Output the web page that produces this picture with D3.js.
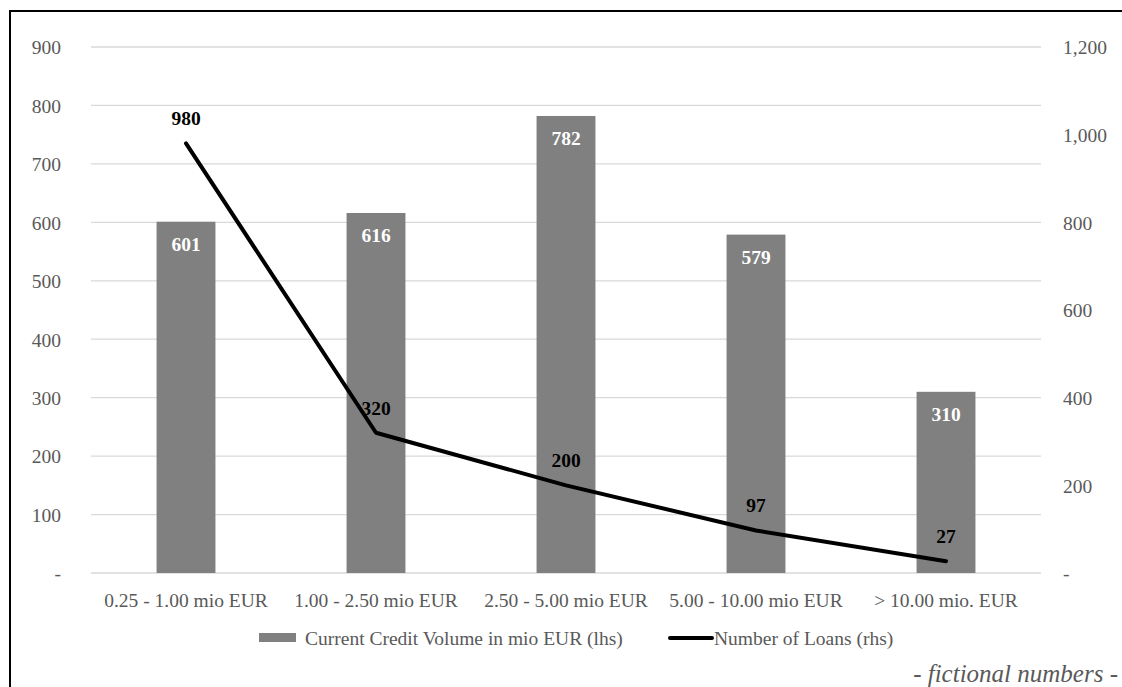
<!DOCTYPE html>
<html><head><meta charset="utf-8">
<script src="https://cdn.jsdelivr.net/npm/d3@7"></script>
<style>body{margin:0;background:#fff}svg{display:block;font-family:"Liberation Serif","Times New Roman",serif}</style>
</head><body>
<script>
const categories = ["0.25 - 1.00 mio EUR","1.00 - 2.50 mio EUR","2.50 - 5.00 mio EUR","5.00 - 10.00 mio EUR","> 10.00 mio. EUR"];
const creditVolume = [601, 616, 782, 579, 310];
const numberOfLoans = [980, 320, 200, 97, 27];
const leftTicks = [0,100,200,300,400,500,600,700,800,900];
const rightTicks = [0,200,400,600,800,1000,1200];
const seriesNames = ["Current Credit Volume in mio EUR (lhs)", "Number of Loans (rhs)"];
const footnote = "- fictional numbers -";

const W = 1122, H = 687;
const FS = 19.5;
const svg = d3.select("body").append("svg").attr("width", W).attr("height", H);
svg.append("rect").attr("x",10).attr("y",11).attr("width",1130).attr("height",700)
  .attr("fill","none").attr("stroke","#000").attr("stroke-width",2);

const x = d3.scaleBand().domain(categories).range([91,1041]).paddingInner(0.69).paddingOuter(0.345);
const yL = d3.scaleLinear().domain([0,900]).range([573,47]);
const yR = d3.scaleLinear().domain([0,1200]).range([573,47]);
const fmt = d3.format(",");

// grid
svg.append("g").selectAll("line").data(leftTicks).join("line")
  .attr("x1",91).attr("x2",1041).attr("y1",d=>yL(d)).attr("y2",d=>yL(d))
  .attr("stroke","#d9d9d9").attr("stroke-width",1.3);

// left axis
const gl = svg.append("g").attr("transform","translate(61,0)")
  .call(d3.axisLeft(yL).tickValues(leftTicks).tickSize(0).tickPadding(0).tickFormat(d=>d===0?"-":fmt(d)));
gl.select(".domain").remove();
gl.selectAll("text").attr("font-size",FS).attr("fill","#595959").attr("font-family","Liberation Serif").attr("dy","0.35em");

// right axis
const gr = svg.append("g").attr("transform","translate(1063,0)")
  .call(d3.axisRight(yR).tickValues(rightTicks).tickSize(0).tickPadding(0).tickFormat(d=>d===0?"-":fmt(d)));
gr.select(".domain").remove();
gr.selectAll("text").attr("font-size",FS).attr("fill","#595959").attr("font-family","Liberation Serif").attr("dy","0.35em");

// x axis labels
const gx = svg.append("g").attr("transform","translate(0,573)")
  .call(d3.axisBottom(x).tickSize(0).tickPadding(34));
gx.select(".domain").remove();
gx.selectAll("text").attr("font-size",FS).attr("fill","#595959").attr("font-family","Liberation Serif").attr("dy","0");

// bars
svg.append("g").selectAll("rect").data(creditVolume).join("rect")
  .attr("x",(d,i)=>x(categories[i])).attr("width",x.bandwidth())
  .attr("y",d=>yL(d)).attr("height",d=>yL(0)-yL(d)).attr("fill","#808080");
svg.append("g").selectAll("text").data(creditVolume).join("text")
  .attr("x",(d,i)=>x(categories[i])+x.bandwidth()/2).attr("y",d=>yL(d)+29)
  .attr("text-anchor","middle").attr("font-size",FS).attr("font-weight","bold").attr("fill","#fff")
  .text(d=>fmt(d));

// line
const cx = i => x(categories[i]) + x.bandwidth()/2;
const line = d3.line().x((d,i)=>cx(i)).y(d=>yR(d));
svg.append("path").datum(numberOfLoans).attr("d",line).attr("fill","none")
  .attr("stroke","#000").attr("stroke-width",4).attr("stroke-linejoin","round").attr("stroke-linecap","round");
svg.append("g").selectAll("text").data(numberOfLoans).join("text")
  .attr("x",(d,i)=>cx(i)).attr("y",d=>yR(d)-18)
  .attr("text-anchor","middle").attr("font-size",FS).attr("font-weight","bold").attr("fill","#000")
  .text(d=>fmt(d));

// legend
svg.append("rect").attr("x",259).attr("y",633).attr("width",37).attr("height",9).attr("fill","#808080");
svg.append("text").attr("x",305).attr("y",645).attr("font-size",FS).attr("fill","#595959").text(seriesNames[0]);
svg.append("line").attr("x1",670).attr("x2",712).attr("y1",638).attr("y2",638).attr("stroke","#000").attr("stroke-width",4).attr("stroke-linecap","round");
svg.append("text").attr("x",714).attr("y",645).attr("font-size",FS).attr("fill","#595959").text(seriesNames[1]);

// footnote
svg.append("text").attr("x",1118).attr("y",682).attr("text-anchor","end").attr("font-size",25)
  .attr("font-style","italic").attr("fill","#595959").text(footnote);
</script>
</body></html>
